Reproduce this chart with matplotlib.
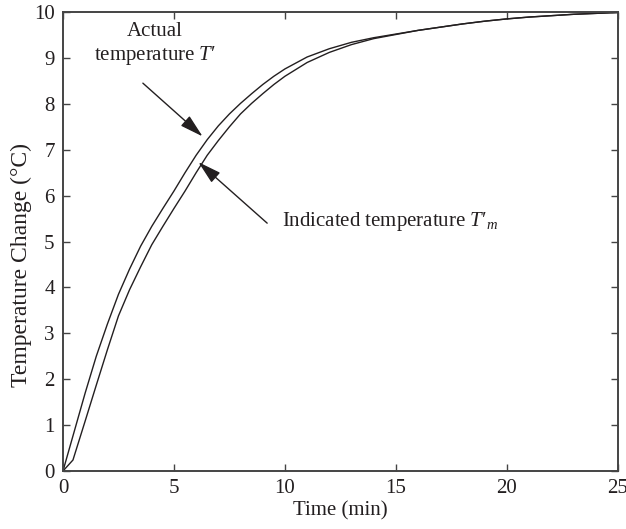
import matplotlib
matplotlib.use("Agg")
import matplotlib.pyplot as plt

# values
t_actual = [0, 0.5, 1.0, 1.5, 2.0, 2.5, 3.0, 3.5, 4.0, 4.5, 5.0, 5.5, 6.0, 6.5, 7.0,
            7.5, 8.0, 8.5, 9.0, 9.5, 10, 11, 12, 13, 14, 15, 16, 17, 18, 19, 20,
            21, 22, 23, 24, 25]
T_actual = [0, 0.85, 1.7, 2.5, 3.2, 3.85, 4.4, 4.9, 5.33, 5.72, 6.1, 6.5, 6.88, 7.22,
            7.52, 7.78, 8.01, 8.22, 8.42, 8.6, 8.76, 9.02, 9.2, 9.34, 9.44, 9.52,
            9.6, 9.67, 9.74, 9.8, 9.85, 9.89, 9.92, 9.95, 9.97, 9.99]

t_indicated = [0, 0.45, 1.0, 1.5, 2.0, 2.5, 3.0, 3.5, 4.0, 4.5, 5.0, 5.5, 6.0, 6.5,
               7.0, 7.5, 8.0, 8.5, 9.0, 9.5, 10, 11, 12, 13, 14, 15, 16, 17, 18,
               19, 20, 21, 22, 23, 24, 25]
T_indicated = [0, 0.24, 1.09, 1.87, 2.64, 3.38, 3.95, 4.45, 4.93, 5.33, 5.72, 6.1,
               6.5, 6.88, 7.2, 7.5, 7.78, 8.01, 8.22, 8.42, 8.6, 8.9, 9.12, 9.29,
               9.42, 9.51, 9.6, 9.67, 9.74, 9.8, 9.85, 9.89, 9.92, 9.95, 9.97, 9.99]

x_ticks = [0, 5, 10, 15, 20, 25]
y_ticks = [0, 1, 2, 3, 4, 5, 6, 7, 8, 9, 10]

plt.rcParams['font.family'] = ['Liberation Serif', 'DejaVu Serif']
plt.rcParams['mathtext.fontset'] = 'custom'
plt.rcParams['mathtext.rm'] = 'Liberation Serif'
plt.rcParams['mathtext.it'] = 'Liberation Serif:italic'

ink = '#231f20'
fig = plt.figure(figsize=(6.26, 5.29), dpi=100)
ax = fig.add_axes([0.1006, 0.1096, 0.8864, 0.8677])

ax.plot(t_actual, T_actual, color=ink, lw=1.0)
ax.plot(t_indicated, T_indicated, color=ink, lw=1.0)

ax.set_xlim(0, 25)
ax.set_ylim(0, 10)
ax.set_xticks(x_ticks)
ax.set_yticks(y_ticks)
ax.tick_params(direction='in', top=True, right=True, length=5, width=1.0,
               color='#444444', labelsize=15, labelcolor=ink, pad=6)
for s in ax.spines.values():
    s.set_color('#444444')
    s.set_linewidth(1.4)

ax.set_xlabel('Time (min)', fontsize=15, color=ink, labelpad=2)
ax.set_ylabel('Temperature Change (°C)', fontsize=17, color=ink)
ax.yaxis.set_label_coords(-0.056, 0.449)

arrow = dict(arrowstyle='-|>,head_length=0.9,head_width=0.25', color=ink,
             lw=1.0, mutation_scale=16, shrinkA=0, shrinkB=0)
ax.annotate('', xy=(6.29, 7.29), xytext=(3.6, 8.45), arrowprops=arrow)
ax.annotate('', xy=(6.1, 6.73), xytext=(9.2, 5.4), arrowprops=arrow)

ax.text(4.14, 9.29, "Actual\ntemperature $T′$", fontsize=15, color=ink,
        ha='center', va='center', multialignment='center')
ax.text(9.87, 5.44, "Indicated temperature $T′_{m}$", fontsize=15, color=ink,
        ha='left', va='center')

fig.savefig('out.png', dpi=100)
